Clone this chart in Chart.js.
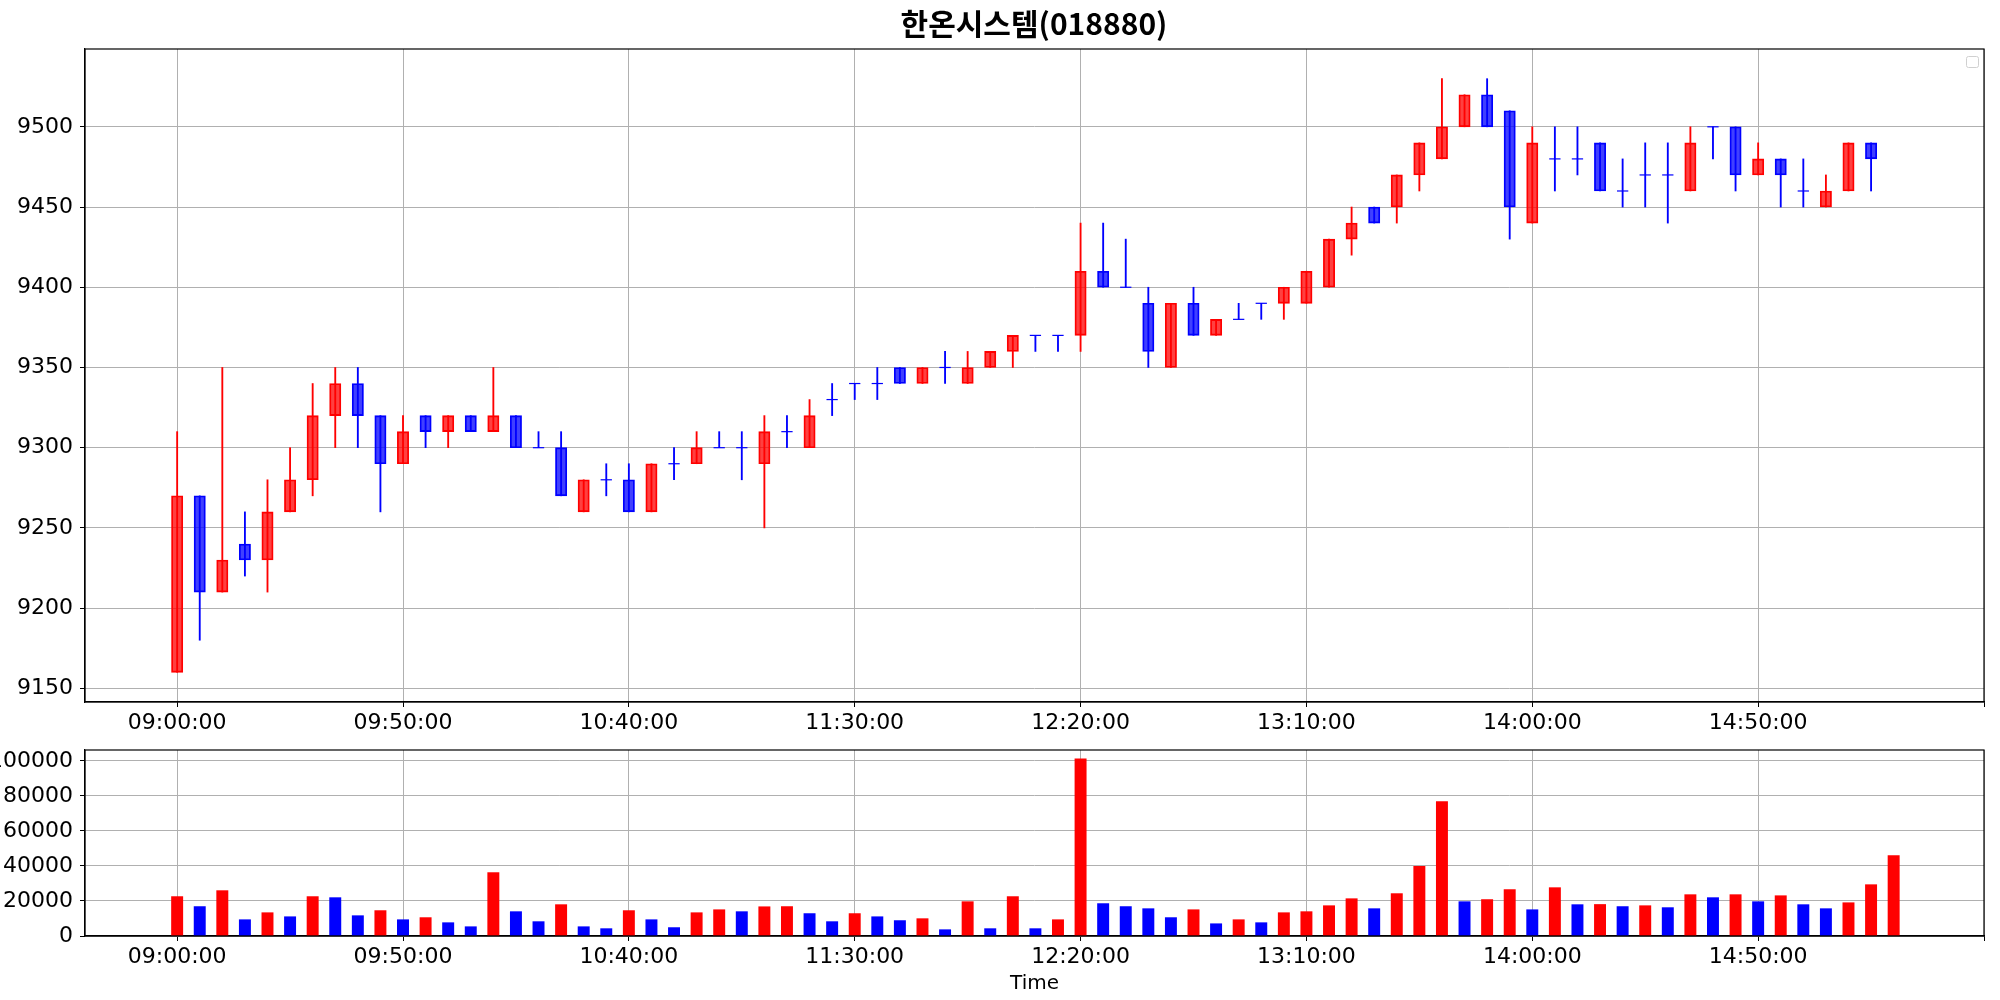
<!DOCTYPE html>
<html>
<head>
<meta charset="utf-8">
<script src="https://cdn.jsdelivr.net/npm/chart.js@4.4.1/dist/chart.umd.min.js"></script>
<style>
  html, body { margin:0; padding:0; background:#fff; }
  #wrap  { position:relative; width:2000px; height:1000px; }
  #top   { position:absolute; left:0; top:0;     width:2000px; height:742px; }
  #bot   { position:absolute; left:0; top:742px; width:2000px; height:258px; }
  #title { position:absolute; left:834px; top:0; width:400px; height:58px; line-height:58px;
           text-align:center; font:bold 30px 'Noto Sans CJK KR', sans-serif; color:#000; z-index:2; }
</style>
</head>
<body>
<div id="wrap">
  <div id="top"><canvas id="price" aria-label="한온시스템 5분봉 캔들 차트" role="img"></canvas></div>
  <div id="bot"><canvas id="vol" aria-label="거래량 막대 차트" role="img"></canvas></div>
  <div id="title">한온시스템(018880)</div>
</div>
<script>
// 5-minute candles, 09:00 -> 15:15 (index 0 = 09:00)
const opens  = [9160,9270,9210,9240,9230,9260,9280,9320,9340,9320, 9290,9320,9310,9320,9310,9320,9300,9300,9260,9280,
                9280,9260,9290,9290,9300,9300,9290,9310,9300,9330, 9340,9340,9350,9340,9350,9340,9350,9360,9370,9370,
                9370,9410,9400,9390,9350,9390,9370,9380,9390,9390, 9390,9400,9430,9450,9450,9470,9480,9500,9520,9510,
                9440,9480,9480,9490,9460,9470,9470,9460,9500,9500, 9470,9480,9460,9450,9460,9490];
const highs  = [9310,9270,9350,9260,9280,9300,9340,9350,9350,9320, 9320,9320,9320,9320,9350,9320,9310,9310,9280,9290,
                9290,9290,9300,9310,9310,9310,9320,9320,9330,9340, 9340,9350,9350,9350,9360,9360,9360,9370,9370,9370,
                9440,9440,9430,9400,9390,9400,9380,9390,9390,9400, 9410,9430,9450,9450,9470,9490,9530,9520,9530,9510,
                9500,9500,9500,9490,9480,9490,9490,9500,9500,9500, 9490,9480,9480,9470,9490,9490];
const lows   = [9160,9180,9210,9220,9210,9260,9270,9300,9300,9260, 9290,9300,9300,9310,9310,9300,9300,9270,9260,9270,
                9260,9260,9280,9290,9300,9280,9250,9300,9300,9320, 9330,9330,9340,9340,9340,9340,9350,9350,9360,9360,
                9360,9400,9400,9350,9350,9370,9370,9380,9380,9380, 9390,9400,9420,9440,9440,9460,9480,9500,9500,9430,
                9440,9460,9470,9460,9450,9450,9440,9460,9480,9460, 9470,9450,9450,9450,9460,9460];
const closes = [9270,9210,9230,9230,9260,9280,9320,9340,9320,9290, 9310,9310,9320,9310,9320,9300,9300,9270,9280,9280,
                9260,9290,9290,9300,9300,9300,9310,9310,9320,9330, 9340,9340,9340,9350,9350,9350,9360,9370,9370,9370,
                9410,9400,9400,9360,9390,9370,9380,9380,9390,9400, 9410,9430,9440,9440,9470,9490,9500,9520,9500,9450,
                9490,9480,9480,9460,9460,9470,9470,9490,9500,9470, 9480,9470,9460,9460,9490,9480];
// volume bars, 09:00 -> 15:20
const volumes = [22500,16800,25900,9300,13300,11000,22500,21900,11600,14500, 9300,10500,7600,5300,36200,13900,8200,17900,5300,4200,
                 14500,9300,4800,13300,15000,13900,16700,16800,12800,8200, 12800,11000,8800,9900,3600,19600,4200,22500,4200,9300,
                 101100,18500,16800,15600,10500,15000,7000,9300,7600,13300, 13900,17300,21300,15600,24200,39800,76800,19600,20800,26500,
                 15000,27600,17900,18000,16800,17300,16200,23600,21900,23600, 19600,23000,17900,15600,19000,29300,45900];

const xTickPos    = [0, 10, 20, 30, 40, 50, 60, 70, 80];
const xTickLabels = ["09:00:00","09:50:00","10:40:00","11:30:00","12:20:00","13:10:00","14:00:00","14:50:00",""];
const priceTicks  = [9150, 9200, 9250, 9300, 9350, 9400, 9450, 9500];
const volumeTicks = [0, 20000, 40000, 60000, 80000, 100000];

const RED = "#ff0000", BLUE = "#0000ff";
const GRID = "#b0b0b0";
const FONT = "'DejaVu Sans', sans-serif";

const up = closes.map((c, i) => c > opens[i]);
const volUp = volumes.map((v, i) => i === 0 || v > volumes[i - 1]);

// box around the plot + matplotlib's empty legend frame
const frame = {
  id: "frame",
  afterDraw(chart, args, opts) {
    const a = chart.chartArea, ctx = chart.ctx;
    ctx.save();
    ctx.strokeStyle = "#000"; ctx.lineWidth = 1.2;
    ctx.strokeRect(a.left, a.top, a.right - a.left, a.bottom - a.top);
    if (opts.legend) {
      ctx.strokeStyle = "#d0d0d0"; ctx.lineWidth = 1;
      ctx.beginPath();
      ctx.roundRect(a.right - 17.5, a.top + 7.5, 12, 11, 2);
      ctx.stroke();
    }
    ctx.restore();
  }
};

function xScale(extra) {
  return Object.assign({
    type: "linear", min: -4.08, max: 80, offset: false,
    afterBuildTicks: s => { s.ticks = xTickPos.map(v => ({ value: v })); },
    ticks: { callback: v => xTickLabels[xTickPos.indexOf(v)] ?? "", font: { family: FONT, size: 22 },
             color: "#000", padding: 3, maxRotation: 0, autoSkip: false },
    grid: { color: GRID, lineWidth: 1, tickColor: "#000", tickLength: 5, offset: false },
    border: { color: "#000", width: 1.2 },
  }, extra);
}

function yScale(min, max, ticks) {
  return {
    type: "linear", min, max,
    afterBuildTicks: s => { s.ticks = ticks.map(v => ({ value: v })); },
    afterFit: s => { s.width = 85; s.paddingTop = 0; s.paddingBottom = 0; },
    ticks: { callback: v => String(v), font: { family: FONT, size: 22 }, color: "#000", padding: 7 },
    grid: { color: GRID, lineWidth: 1, tickColor: "#000", tickLength: 5 },
    border: { color: "#000", width: 1.2 },
  };
}

new Chart(document.getElementById("price"), {
  type: "bar",
  data: {
    datasets: [
      { // wicks
        data: lows.map((l, i) => ({ x: i, y: [l, highs[i]] })),
        backgroundColor: up.map(u => u ? RED : BLUE),
        barThickness: 1.2, grouped: false, borderWidth: 0, order: 3,
      },
      { // bodies
        data: opens.map((o, i) => ({ x: i, y: [o, closes[i]] })),
        backgroundColor: up.map(u => u ? "rgba(255,0,0,0.75)" : "rgba(0,0,255,0.75)"),
        borderColor: up.map(u => u ? RED : BLUE),
        borderWidth: 1.2, borderSkipped: false, barThickness: 11.3, grouped: false, order: 2,
      },
      { // doji: open == close
        type: "scatter",
        data: opens.map((o, i) => o === closes[i] ? { x: i, y: o } : null).filter(p => p),
        pointStyle: "line", radius: 5.65, borderWidth: 1.2, borderColor: BLUE, order: 1,
      },
    ],
  },
  options: {
    responsive: true, maintainAspectRatio: false, animation: false, devicePixelRatio: 1,
    layout: { padding: { left: 0, right: 16, top: 49, bottom: 0 } },
    plugins: {
      legend: { display: false }, tooltip: { enabled: false },
      frame: { legend: true },
    },
    scales: {
      x: xScale({ afterFit: s => { s.height = 40; s.paddingLeft = 0; s.paddingRight = 0; } }),
      y: yScale(9141.5, 9548.5, priceTicks),
    },
  },
  plugins: [frame],
});

new Chart(document.getElementById("vol"), {
  type: "bar",
  data: {
    datasets: [{
      data: volumes.map((v, i) => ({ x: i, y: v })),
      backgroundColor: volUp.map(u => u ? RED : BLUE),
      barThickness: 11.3, grouped: false, borderWidth: 0,
    }],
  },
  options: {
    responsive: true, maintainAspectRatio: false, animation: false, devicePixelRatio: 1,
    layout: { padding: { left: 0, right: 16, top: 8, bottom: 0 } },
    plugins: { legend: { display: false }, tooltip: { enabled: false }, frame: { legend: false } },
    scales: {
      x: xScale({
        title: { display: true, text: "Time", color: "#000", font: { family: FONT, size: 20 }, padding: { top: 0, bottom: 4 } },
        afterFit: s => { s.height = 64; s.paddingLeft = 0; s.paddingRight = 0; },
      }),
      y: yScale(0, 106200, volumeTicks),
    },
  },
  plugins: [frame],
});
</script>
</body>
</html>
